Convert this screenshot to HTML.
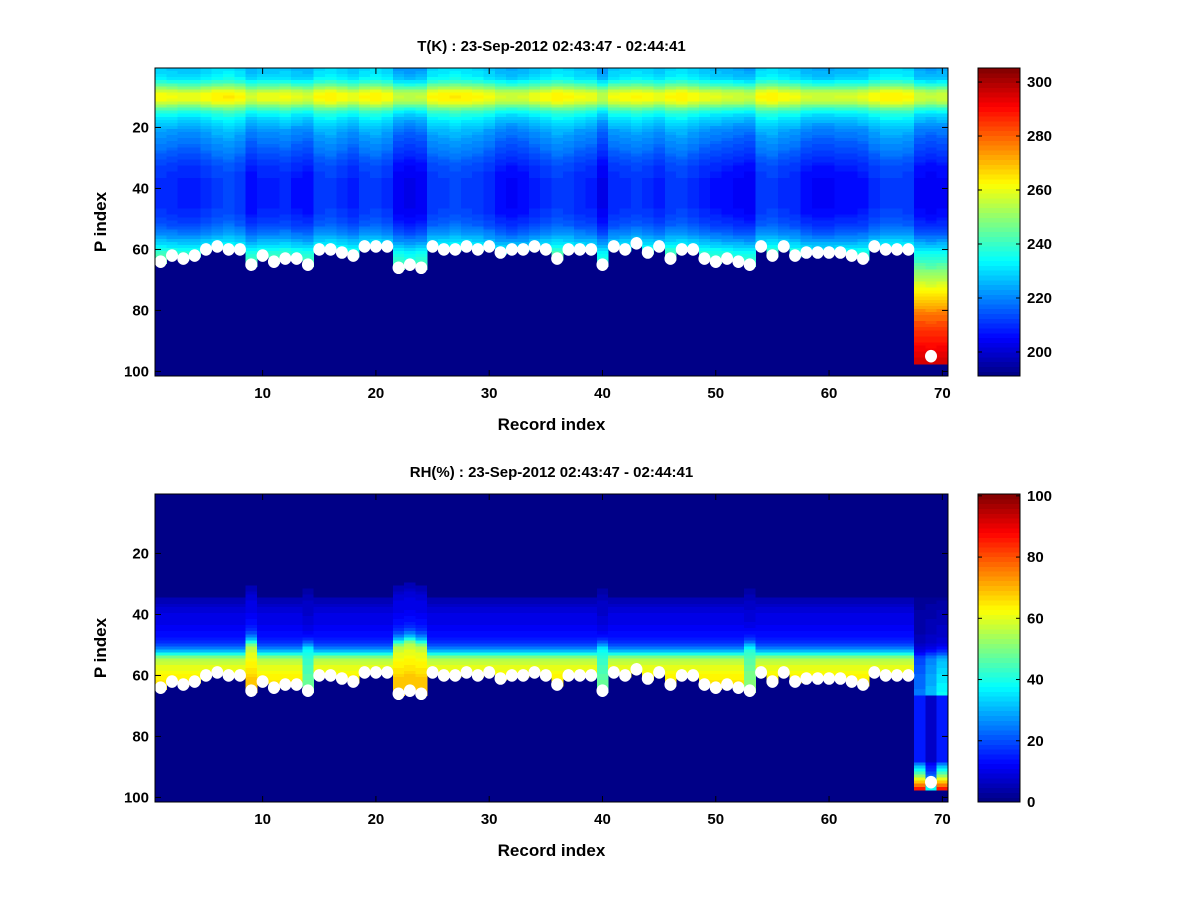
<!DOCTYPE html>
<html><head><meta charset="utf-8"><style>
body{margin:0;background:#fff;}
svg text{font-family:"Liberation Sans",Arial,sans-serif;font-weight:bold;fill:#000;}
</style></head><body>
<svg id="fig" width="1200" height="900" viewBox="0 0 1200 900" xmlns="http://www.w3.org/2000/svg">
<rect width="1200" height="900" fill="#fff"/>
</svg>
<script>
// ---- data ----
const records = Array.from({length:70},(_,i)=>i+1);
const surfaceLevel = [64,62,63,62,60,59,60,60,65,62, 64,63,63,65,60,60,61,62,59,59,
  59,66,65,66,59,60,60,59,60,59, 61,60,60,59,60,63,60,60,60,65,
  59,60,58,61,59,63,60,60,63,64, 63,64,65,59,62,59,62,61,61,61,
  61,62,63,59,60,60,60,null,95,null];
const dataBottom = [64,62,63,62,60,59,60,60,65,62, 64,63,63,65,60,60,61,62,59,59,
  59,66,65,66,59,60,60,59,60,59, 61,60,60,59,60,63,60,60,60,65,
  59,60,58,61,59,63,60,60,63,64, 63,64,65,59,62,59,62,61,61,61,
  61,62,63,59,60,60,60,97,97,97];
const tProfile = [227,228,229,231,236,242,248,255,259,260,259,255,248,242,237,233,230,228,226,224,
  222,221,220,219,218,217,216,215,214,213,212,211,210,210,209,209,208,208,208,208,
  208,208,208,208,208,208,209,209,210,211,212,213,215,217,219,222,225,228,231,235,
  238,240,242,244,246,248,250,252,254,256,258,260,262,264,266,268,270,272,274,276,
  278,280,281,283,284,286,287,288,289,290,291,292,293,294,295,296,297];
const tOffset = [2,1,0,0,2,4,5,3,-2,0, 0,1,-1,-2,3,4,2,0,3,4, 2,-4,-5,-4,3,4,5,4,3,1,
  -2,-3,-2,0,2,4,3,1,0,-5, 1,2,3,2,0,3,4,2,0,-1, -2,-3,-4,3,4,2,1,-2,-3,-3,
  -2,-2,-1,2,4,4,3,-3,-4,-3];
const rhProfile = [0,0,0,0,0,0,0,0,0,0, 0,0,0,0,0,0,0,0,0,0, 0,0,0,0,0,0,0,0,0,0,
  0,0,0,0,5,6,7,8,9,10, 10,11,11,12,12,13,14,15,17,19, 24,30,40,50,56,58,60,61,62,63,
  64,65,66,67,68,69,15,15,15,15, 15,15,15,15,15,15,15,15,15,15, 15,15,15,15,15,15,15,15,
  25,32,38,45,52,60,68,76,85];
const rhLift = [0,0,0,0,0,0,0,0,4,0, 0,0,0,3,0,0,0,0,0,0, 0,4,5,4,0,0,0,0,0,0,
  0,0,0,0,0,0,0,0,0,3, 0,0,0,0,0,0,0,0,0,0, 0,0,3,0,0,0,0,0,0,0, 0,0,0,0,0,0,0,0,0,0];
const rhScaleUpper = [1,1,1,1,1,1,1,1,1,1, 1,1,1,0.7,1,1,1,1,1,1, 1,1,1,1,1,1,1,1,1,1,
  1,1,1,1,1,1,1,1,1,0.7, 1,1,1,1,1,1,1,1,1,1, 1,1,0.75,1,1,1,1,1,1,1, 1,1,1,1,1,1,1,0.35,0.45,0.55];
const rhScaleDeep = [1,1,1,1,1,1,1,1,1,1, 1,1,1,1,1,1,1,1,1,1, 1,1,1,1,1,1,1,1,1,1,
  1,1,1,1,1,1,1,1,1,1, 1,1,1,1,1,1,1,1,1,1, 1,1,1,1,1,1,1,1,1,1, 1,1,1,1,1,1,1,1,0.45,1];
const xTicks = [10,20,30,40,50,60,70];
const yTicks = [20,40,60,80,100];
const tCbTicks = [200,220,240,260,280,300];
const rhCbTicks = [0,20,40,60,80,100];

// ---- helpers ----
const NS="http://www.w3.org/2000/svg";
const svg=document.getElementById('fig');
function mk(tag,attrs,parent){const e=document.createElementNS(NS,tag);for(const k in attrs)e.setAttribute(k,attrs[k]);(parent||svg).appendChild(e);return e;}
function jet(v){v=Math.max(0,Math.min(1,v));const k=Math.min(63,Math.floor(v*64));const t=(k+0.5)/64;
  const c=x=>Math.round(255*Math.max(0,Math.min(1,1.5-Math.abs(x))));
  return `rgb(${c(4*t-3)},${c(4*t-2)},${c(4*t-1)})`;}

function panel(top,title,valueFn,vmin,vmax,cbTicks,name){
  const L=155,R=948,T=top,B=top+308;
  const xs=r=>L+(r-0.5)*(R-L)/70;
  const ys=p=>T+(p-0.5)*(B-T)/101;
  const g=mk('g',{});
  
  
  const cellW=(R-L)/70, cellH=(B-T)/101;
  mk('rect',{x:L,y:T,width:R-L,height:B-T,fill:jet(0)},g);
  records.forEach((r,ci)=>{
    for(let p=1;p<=dataBottom[ci];p++){
      const v=valueFn(ci,p);
      const c=mk('rect',{x:xs(r-0.5).toFixed(2),y:ys(p-0.5).toFixed(2),width:(cellW+0.6).toFixed(2),height:(cellH+0.6).toFixed(2),fill:jet((v-vmin)/(vmax-vmin)),'shape-rendering':'crispEdges'},g);
      
      
    }
  });
  records.forEach((r,ci)=>{
    if(surfaceLevel[ci]==null)return;
    const d=mk('ellipse',{cx:xs(r),cy:ys(surfaceLevel[ci]),rx:6,ry:6.3,fill:'#fff'},g);
    
    
  });
  mk('rect',{x:L,y:T,width:R-L,height:B-T,fill:'none',stroke:'#000','stroke-width':1},g);
  xTicks.forEach(t=>{const x=xs(t);
    mk('line',{x1:x,y1:B,x2:x,y2:B-6,stroke:'#000'},g);mk('line',{x1:x,y1:T,x2:x,y2:T+6,stroke:'#000'},g);
    const tl=mk('text',{x:x,y:B+22,'text-anchor':'middle','font-size':15},g);tl.textContent=t;
    
    });
  yTicks.forEach(t=>{const y=ys(t);
    mk('line',{x1:L,y1:y,x2:L+6,y2:y,stroke:'#000'},g);mk('line',{x1:R,y1:y,x2:R-6,y2:y,stroke:'#000'},g);
    const tl=mk('text',{x:L-6,y:y+5,'text-anchor':'end','font-size':15},g);tl.textContent=t;
    
    });
  const tt=mk('text',{x:(L+R)/2,y:T-17,'text-anchor':'middle','font-size':15},g);tt.textContent=title;
  
  
  const xl=mk('text',{x:(L+R)/2,y:B+54,'text-anchor':'middle','font-size':17},g);xl.textContent='Record index';
  
  
  const yl=mk('text',{x:0,y:0,'text-anchor':'middle','font-size':17,transform:`translate(106,${(T+B)/2}) rotate(-90)`},g);yl.textContent='P index';
  
  
  const cb=mk('g',{},g);
  
  
  const CL=978,CR=1020;
  for(let k=0;k<64;k++){const h=(B-T)/64;
    mk('rect',{x:CL,y:(B-(k+1)*h).toFixed(2),width:CR-CL,height:(h+0.6).toFixed(2),fill:jet((k+0.5)/64),'shape-rendering':'crispEdges'},cb);}
  mk('rect',{x:CL,y:T,width:CR-CL,height:B-T,fill:'none',stroke:'#000'},cb);
  cbTicks.forEach(t=>{const y=B-(t-vmin)/(vmax-vmin)*(B-T);
    mk('line',{x1:CL,y1:y,x2:CL+4,y2:y,stroke:'#000'},cb);mk('line',{x1:CR,y1:y,x2:CR-4,y2:y,stroke:'#000'},cb);
    const tl=mk('text',{x:CR+7,y:y+5,'font-size':15},cb);tl.textContent=t;
    
    });
}
panel(68,'T(K) : 23-Sep-2012 02:43:47 - 02:44:41',(ci,p)=>tProfile[p-1]+tOffset[ci]*(p<67?1:0.3),191.1,305.2,tCbTicks,'temperature');
panel(494,'RH(%) : 23-Sep-2012 02:43:47 - 02:44:41',(ci,p)=>{
  if(p>66) return rhProfile[p-1]*rhScaleDeep[ci];
  const q=Math.min(66,p+rhLift[ci]);
  return rhProfile[q-1]*rhScaleUpper[ci];
},0,100.6,rhCbTicks,'humidity');
</script>
</body></html>
